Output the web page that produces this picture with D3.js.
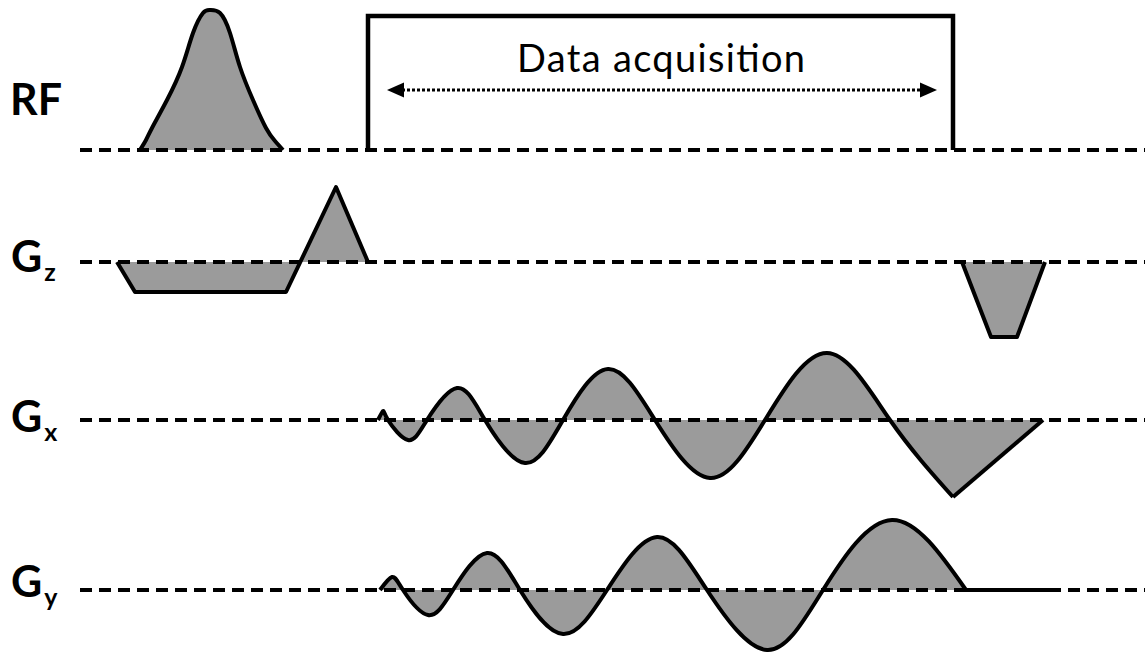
<!DOCTYPE html>
<html>
<head>
<meta charset="utf-8">
<script src="https://cdn.jsdelivr.net/npm/d3@7"></script>
<style>
    body { margin: 0; background: #fff; }
    #sequence-diagram { width: 1145px; height: 653px; }
</style>
</head>
<body>
<div id="sequence-diagram"></div>
<script>
// waveform samples, [time, amplitude] (time ~ px, amplitude ~ px above baseline)
const rfPulse = [[140, 0], [146, 10], [152, 22], [167, 50], [182, 83], [193, 117], [203, 137], [210, 140],
    [220, 137], [230, 117], [240, 83], [253, 50], [266, 22], [275, 9], [283, 0]];
const gzSliceSelect = [[117, 0], [135, -30], [286, -30], [336, 75], [368, 0]];
const gzCrusher = [[962, 0], [991, -75], [1017, -75], [1045, 0]];
const gxReadout = [[378, 0], [383, 9], [388, 0], [408, -20], [427, 0], [457, 32], [485, 0], [525, -43],
    [563, 0], [608, 51], [655, 0], [710, -58], [765, 0], [827, 67], [890, 0], [953, -77]];
const gxRewind = [[953, -77], [1043, 0]];
const gyReadout = [[380, 0], [392, 13], [403, 0], [428, -25], [453, 0], [487, 37], [520, 0], [563, -44],
    [607, 0], [657, 53], [707, 0], [767, -60], [823, 0], [892, 70], [966, 0]];
const gyTail = [[966, 0], [1053, 0]];

const acquisitionWindow = [368, 953];
const acquisitionLabel = "Data acquisition";

const rowNames = ["RF", "Gz", "Gx", "Gy"];
const rowLabels = ["RF", "G", "G", "G"];
const rowSubscripts = ["", "z", "x", "y"];

class PulseSequenceVis {

    constructor(parentElement) {
        this.parentElement = parentElement;
        this.initVis();
    }

    initVis() {
        let vis = this;

        vis.width = 1145;
        vis.height = 653;

        vis.svg = d3.select("#" + vis.parentElement).append("svg")
            .attr("width", vis.width)
            .attr("height", vis.height);

        // time axis (no ticks drawn)
        vis.x = d3.scaleLinear().domain([0, 1145]).range([0, vis.width]);

        // baseline of each row
        vis.baseline = {RF: 150, Gz: 262, Gx: 420, Gy: 590};
        vis.y = {};
        rowNames.forEach(r => {
            vis.y[r] = d3.scaleLinear().domain([-100, 100]).range([vis.baseline[r] + 100, vis.baseline[r] - 100]);
        });

        vis.lineStart = 80;
        vis.fillColor = "#9b9b9b";

        vis.wrangleData();
    }

    wrangleData() {
        let vis = this;

        vis.shapes = [
            {row: "RF", points: rfPulse, curve: d3.curveNatural},
            {row: "Gz", points: gzSliceSelect, curve: d3.curveLinear},
            {row: "Gz", points: gzCrusher, curve: d3.curveLinear},
            {row: "Gx", points: gxReadout, curve: d3.curveNatural},
            {row: "Gx", points: gxRewind, curve: d3.curveLinear},
            {row: "Gy", points: gyReadout, curve: d3.curveNatural},
            {row: "Gy", points: gyTail, curve: d3.curveLinear}
        ];

        vis.rows = rowNames.map((r, i) => ({name: r, label: rowLabels[i], sub: rowSubscripts[i]}));

        vis.updateVis();
    }

    updateVis() {
        let vis = this;

        // gray fill between waveform and baseline
        vis.svg.append("g").attr("class", "fills")
            .selectAll("path")
            .data(vis.shapes)
            .enter().append("path")
            .attr("d", s => d3.area()
                .curve(s.curve)
                .x(d => vis.x(d[0]))
                .y0(vis.y[s.row](0))
                .y1(d => vis.y[s.row](d[1]))(s.points))
            .attr("fill", vis.fillColor);

        // dashed baselines
        vis.svg.append("g").attr("class", "baselines")
            .selectAll("line")
            .data(vis.rows)
            .enter().append("line")
            .attr("x1", vis.lineStart)
            .attr("x2", vis.width)
            .attr("y1", d => vis.y[d.name](0))
            .attr("y2", d => vis.y[d.name](0))
            .attr("stroke", "#000")
            .attr("stroke-width", 4)
            .attr("stroke-dasharray", "12,7");

        // waveform outlines
        vis.svg.append("g").attr("class", "outlines")
            .selectAll("path")
            .data(vis.shapes)
            .enter().append("path")
            .attr("d", s => d3.line()
                .curve(s.curve)
                .x(d => vis.x(d[0]))
                .y(d => vis.y[s.row](d[1]))(s.points))
            .attr("fill", "none")
            .attr("stroke", "#000")
            .attr("stroke-width", 4)
            .attr("stroke-linejoin", "round");

        // acquisition window box (open at the bottom)
        let x0 = vis.x(acquisitionWindow[0]), x1 = vis.x(acquisitionWindow[1]);
        let yb = vis.y.RF(0), yt = 16;
        vis.svg.append("path")
            .attr("d", `M${x0},${yb}V${yt}H${x1}V${yb}`)
            .attr("fill", "none")
            .attr("stroke", "#000")
            .attr("stroke-width", 4.5);

        vis.svg.append("text")
            .attr("x", 517)
            .attr("y", 72)
            .attr("textLength", 288)
            .attr("lengthAdjust", "spacing")
            .style("font-family", "Lato, 'Open Sans', sans-serif")
            .style("font-size", "38px")
            .attr("fill", "#000")
            .text(acquisitionLabel);

        // double arrow
        let ay = 90, ax0 = x0 + 19, ax1 = x1 - 16, head = 17, hw = 7.5;
        vis.svg.append("line")
            .attr("x1", ax0 + head - 2).attr("x2", ax1 - head + 2)
            .attr("y1", ay).attr("y2", ay)
            .attr("stroke", "#000")
            .attr("stroke-width", 3)
            .attr("stroke-dasharray", "3,2");
        vis.svg.append("path")
            .attr("d", `M${ax0},${ay}L${ax0 + head},${ay - hw}L${ax0 + head},${ay + hw}Z`);
        vis.svg.append("path")
            .attr("d", `M${ax1},${ay}L${ax1 - head},${ay - hw}L${ax1 - head},${ay + hw}Z`);

        // row labels
        let labelOffset = {RF: -35, Gz: 10, Gx: 12, Gy: 7};
        let labels = vis.svg.append("g").attr("class", "labels")
            .selectAll("text")
            .data(vis.rows)
            .enter().append("text")
            .attr("x", d => d.name === "RF" ? 10 : 11)
            .attr("y", d => vis.y[d.name](0) + labelOffset[d.name])
            .style("font-family", "Lato, 'Open Sans', sans-serif")
            .style("font-weight", "bold")
            .style("font-size", "43px")
            .attr("fill", "#000");

        labels.append("tspan").text(d => d.label);
        labels.append("tspan")
            .attr("dy", 9)
            .attr("dx", 2)
            .style("font-size", "25px")
            .text(d => d.sub);
    }
}

new PulseSequenceVis("sequence-diagram");
</script>
</body>
</html>
